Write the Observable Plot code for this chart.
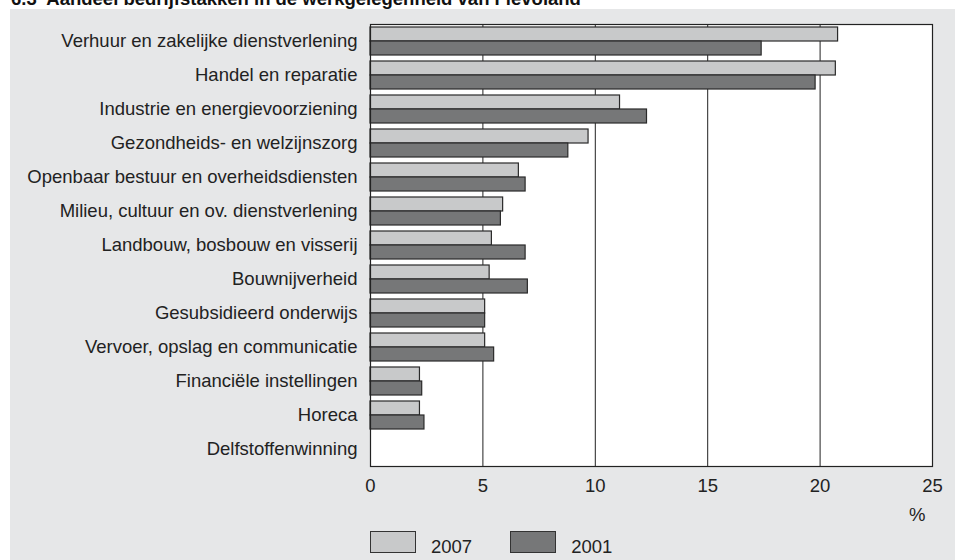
<!DOCTYPE html>
<html>
<head>
<meta charset="utf-8">
<script src="https://cdn.jsdelivr.net/npm/d3@7"></script>
<script src="https://cdn.jsdelivr.net/npm/@observablehq/plot@0.6"></script>
<style>
  body { margin: 0; background: #fff; font-family: "Liberation Sans", Arial, sans-serif; }
  #title { position: absolute; left: 11px; top: -12px; font-weight: bold; font-size: 18.5px; color: #111; white-space: pre; }
  #panel { position: absolute; left: 10px; top: 9px; width: 945px; height: 551px; background: #e6e7e8; overflow: hidden; }
  #chart { position: absolute; left: 0; top: 0; }
  #legend { position: absolute; left: 360px; top: 522px; display: flex; align-items: flex-end; font-size: 18.5px; color: #222; }
  .item { display: flex; align-items: flex-end; margin-right: 38px; }
  .sw { width: 44px; height: 20px; border: 1px solid #333; margin-right: 15px; }
  .lab { line-height: 19px; position: relative; top: 3px; }
</style>
</head>
<body>
<div id="title">6.3  Aandeel bedrijfstakken in de werkgelegenheid van Flevoland</div>
<div id="panel">
  <div id="chart"></div>
  <div id="legend"></div>
</div>
<script>
const categories = [
  "Verhuur en zakelijke dienstverlening",
  "Handel en reparatie",
  "Industrie en energievoorziening",
  "Gezondheids- en welzijnszorg",
  "Openbaar bestuur en overheidsdiensten",
  "Milieu, cultuur en ov. dienstverlening",
  "Landbouw, bosbouw en visserij",
  "Bouwnijverheid",
  "Gesubsidieerd onderwijs",
  "Vervoer, opslag en communicatie",
  "Financiële instellingen",
  "Horeca",
  "Delfstoffenwinning"
];
const values2007 = [20.8, 20.7, 11.1, 9.7, 6.6, 5.9, 5.4, 5.3, 5.1, 5.1, 2.2, 2.2, 0];
const values2001 = [17.4, 19.8, 12.3, 8.8, 6.9, 5.8, 6.9, 7.0, 5.1, 5.5, 2.3, 2.4, 0];
const seriesNames = ["2007", "2001"];
const seriesColors = ["#c8c9ca", "#767778"];
const xTicks = [0, 5, 10, 15, 20, 25];
const gridTicks = [5, 10, 15, 20];
const unitLabel = "%";

const d2007 = categories.map((c, i) => ({cat: c, value: values2007[i]}));
const d2001 = categories.map((c, i) => ({cat: c, value: values2001[i]}));

const chart = Plot.plot({
  width: 945,
  height: 520,
  marginLeft: 360,
  marginTop: 15,
  marginRight: 23,
  marginBottom: 63,
  style: {fontFamily: "Liberation Sans, Arial, sans-serif", fontSize: "18.5px", color: "#222", background: "transparent", overflow: "visible"},
  x: {domain: [0, 25]},
  y: {domain: categories, padding: 0},
  marks: [
    Plot.frame({fill: "white", stroke: null}),
    Plot.gridX(gridTicks, {stroke: "#222", strokeOpacity: 1, strokeWidth: 1}),
    Plot.barX(d2007, {x: "value", y: "cat", fill: seriesColors[0], stroke: "#2a2a2a", strokeWidth: 1.2, insetTop: 3, insetBottom: 17}),
    Plot.barX(d2001, {x: "value", y: "cat", fill: seriesColors[1], stroke: "#2a2a2a", strokeWidth: 1.2, insetTop: 17, insetBottom: 3}),
    Plot.frame({stroke: "#222", strokeWidth: 1.2}),
    Plot.axisX({ticks: xTicks, tickSize: 0, tickPadding: 12, label: null, fontSize: 18.5}),
    Plot.axisY({tickSize: 0, tickPadding: 13, label: null, fontSize: 18.5}),
    Plot.text([unitLabel], {frameAnchor: "bottom-right", dx: -7, dy: 54, fontSize: 18.5, fill: "#222"})
  ]
});
document.getElementById("chart").appendChild(chart);

const legend = document.getElementById("legend");
seriesNames.forEach((n, i) => {
  const it = document.createElement("div");
  it.className = "item";
  const sw = document.createElement("div");
  sw.className = "sw";
  sw.style.background = seriesColors[i];
  const lab = document.createElement("span");
  lab.className = "lab";
  lab.textContent = n;
  it.appendChild(sw);
  it.appendChild(lab);
  legend.appendChild(it);
});
</script>
</body>
</html>
